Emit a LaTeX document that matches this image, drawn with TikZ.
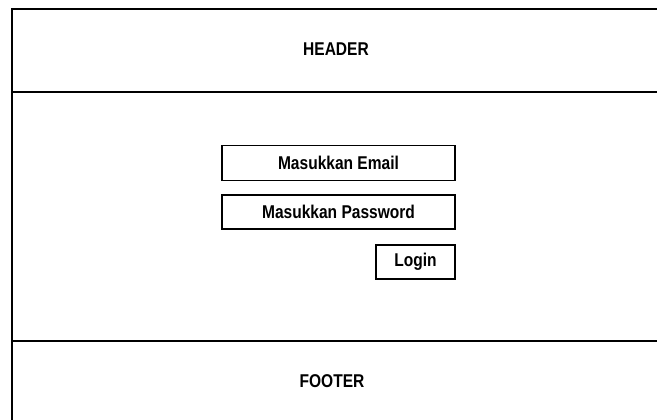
\documentclass[tikz,border=0pt]{standalone}
\usepackage{fontspec}
\usepackage{graphicx}
\setmainfont{Liberation Sans}
% narrow, tall lettering for the wireframe labels
\newcommand{\narrowtext}[1]{\scalebox{0.84}[1]{#1}}
\begin{document}
\begin{tikzpicture}[x=1pt,y=-1pt,
  frame/.style={line width=2pt,line cap=rect},
  label/.style={font=\fontsize{18.5}{20}\selectfont\bfseries,inner sep=0pt},
  field/.style={draw,line width=1.4pt,font=\fontsize{18.5}{20}\selectfont\bfseries,inner sep=0pt}
]
\useasboundingbox (0,0) rectangle (657,420);
% page frame: left edge, top edge and section separators
\coordinate (tl) at (12,9);
\coordinate (tr) at (657,9);
\coordinate (bl) at (12,420);
\draw[frame] (tr) -- (tl) -- (bl);
\draw[frame] (12,92) -- (657,92);
\draw[frame] (12,341) -- (657,341);
% section labels
\node[label] (header) at (336,49) {\narrowtext{HEADER}};
\node[label] (footer) at (332,381) {\narrowtext{FOOTER}};
% login form
\node[field,minimum width=233pt,minimum height=35pt] (email) at (338.5,163) {\narrowtext{Masukkan Email}};
\node[field,minimum width=233pt,minimum height=34pt] (pass) at (338.5,212) {\narrowtext{Masukkan Password}};
\node[field,minimum width=79pt,minimum height=34pt] (login) at (415.5,262) {\narrowtext{Login}};
\end{tikzpicture}
\end{document}
